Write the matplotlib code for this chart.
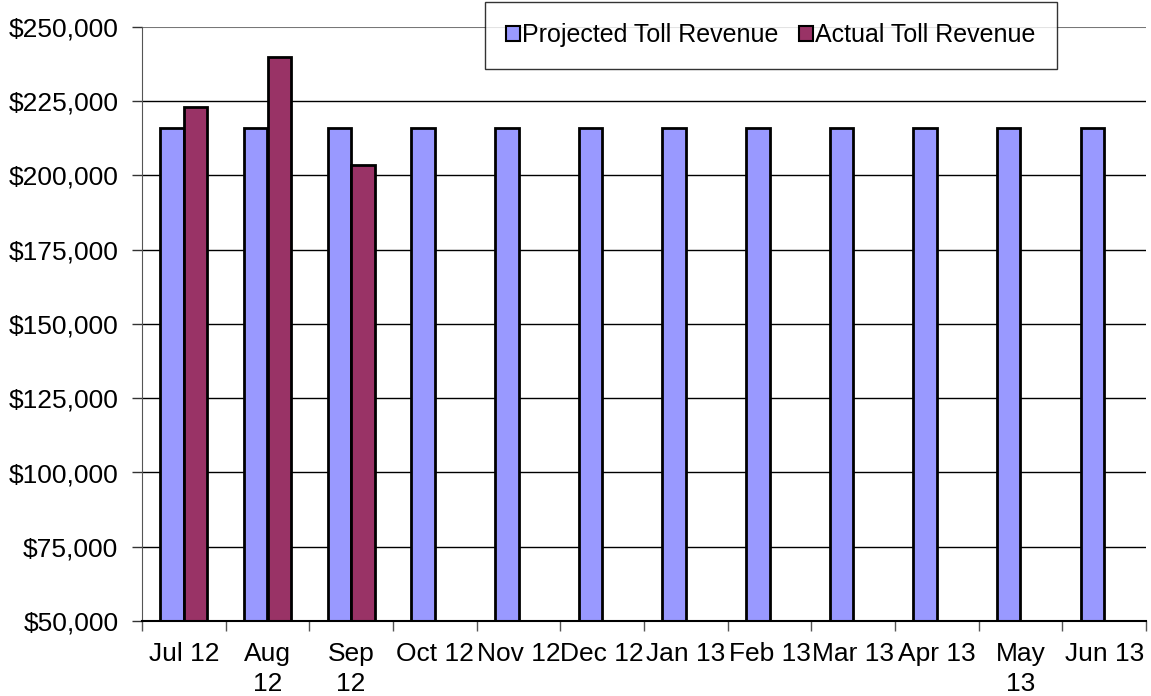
import matplotlib
matplotlib.use('Agg')
import matplotlib.pyplot as plt
import numpy as np
from matplotlib.ticker import FuncFormatter, MultipleLocator
from matplotlib.patches import Patch

plt.rcParams['font.family'] = ['Liberation Sans', 'DejaVu Sans']

months = ['Jul 12', 'Aug\n12', 'Sep\n12', 'Oct 12', 'Nov 12', 'Dec 12',
          'Jan 13', 'Feb 13', 'Mar 13', 'Apr 13', 'May\n13', 'Jun 13']
projected = [216000] * 12
actual = [223200, 239800, 203600]

proj_color = '#9999FF'
act_color = '#993366'

fig = plt.figure(figsize=(11.51, 6.96), dpi=100)
ax = fig.add_axes([142 / 1151, 1 - 621 / 696, (1146 - 142) / 1151, (621 - 27) / 696])

x = np.arange(len(months))
w = 0.28
ax.bar(x - w / 2, np.array(projected) - 50000, w, bottom=50000, color=proj_color,
       edgecolor='black', linewidth=2, zorder=3)
ax.bar(x[:len(actual)] + w / 2, np.array(actual) - 50000, w, bottom=50000, color=act_color,
       edgecolor='black', linewidth=2, zorder=3)

ax.set_xlim(-0.5, len(months) - 0.5)
ax.set_ylim(50000, 250000)
ax.yaxis.set_major_locator(MultipleLocator(25000))
ax.yaxis.set_major_formatter(FuncFormatter(lambda v, p: '${:,.0f}'.format(v)))
ax.set_xticks(x)
ax.set_xticklabels(months, va='top', linespacing=1.3)
ax.set_xticks(np.arange(-0.5, len(months)), minor=True)
ax.tick_params(axis='x', which='major', length=0, pad=15, labelsize=19)
ax.tick_params(axis='x', which='minor', length=7, width=1, color='#555555', direction='out')
ax.tick_params(axis='y', length=7, width=1, color='#333333', pad=10, labelsize=19)

for v in range(75000, 250000, 25000):
    ax.axhline(v, color='black', linewidth=1, zorder=1)
ax.axhline(250000, color='#777777', linewidth=1.5, zorder=1)

for s in ['top', 'right']:
    ax.spines[s].set_visible(False)
ax.spines['left'].set_color('#555555')
ax.spines['bottom'].set_color('black')
ax.spines['bottom'].set_linewidth(1.5)
ax.spines['bottom'].set_zorder(4)

handles = [Patch(facecolor=proj_color, edgecolor='black', linewidth=1.5),
           Patch(facecolor=act_color, edgecolor='black', linewidth=1.5)]
leg = fig.legend(handles, ['Projected Toll Revenue', 'Actual Toll Revenue'],
                 loc='upper left', bbox_to_anchor=(485 / 1151, 1 - 2 / 696),
                 ncol=2, fontsize=18, frameon=True, fancybox=False,
                 handlelength=0.55, handleheight=0.55, handletextpad=0.1,
                 columnspacing=0.8, borderpad=0.85, borderaxespad=0)
leg.get_frame().set_edgecolor('black')
leg.get_frame().set_linewidth(1)

fig.savefig('out.png', dpi=100)
